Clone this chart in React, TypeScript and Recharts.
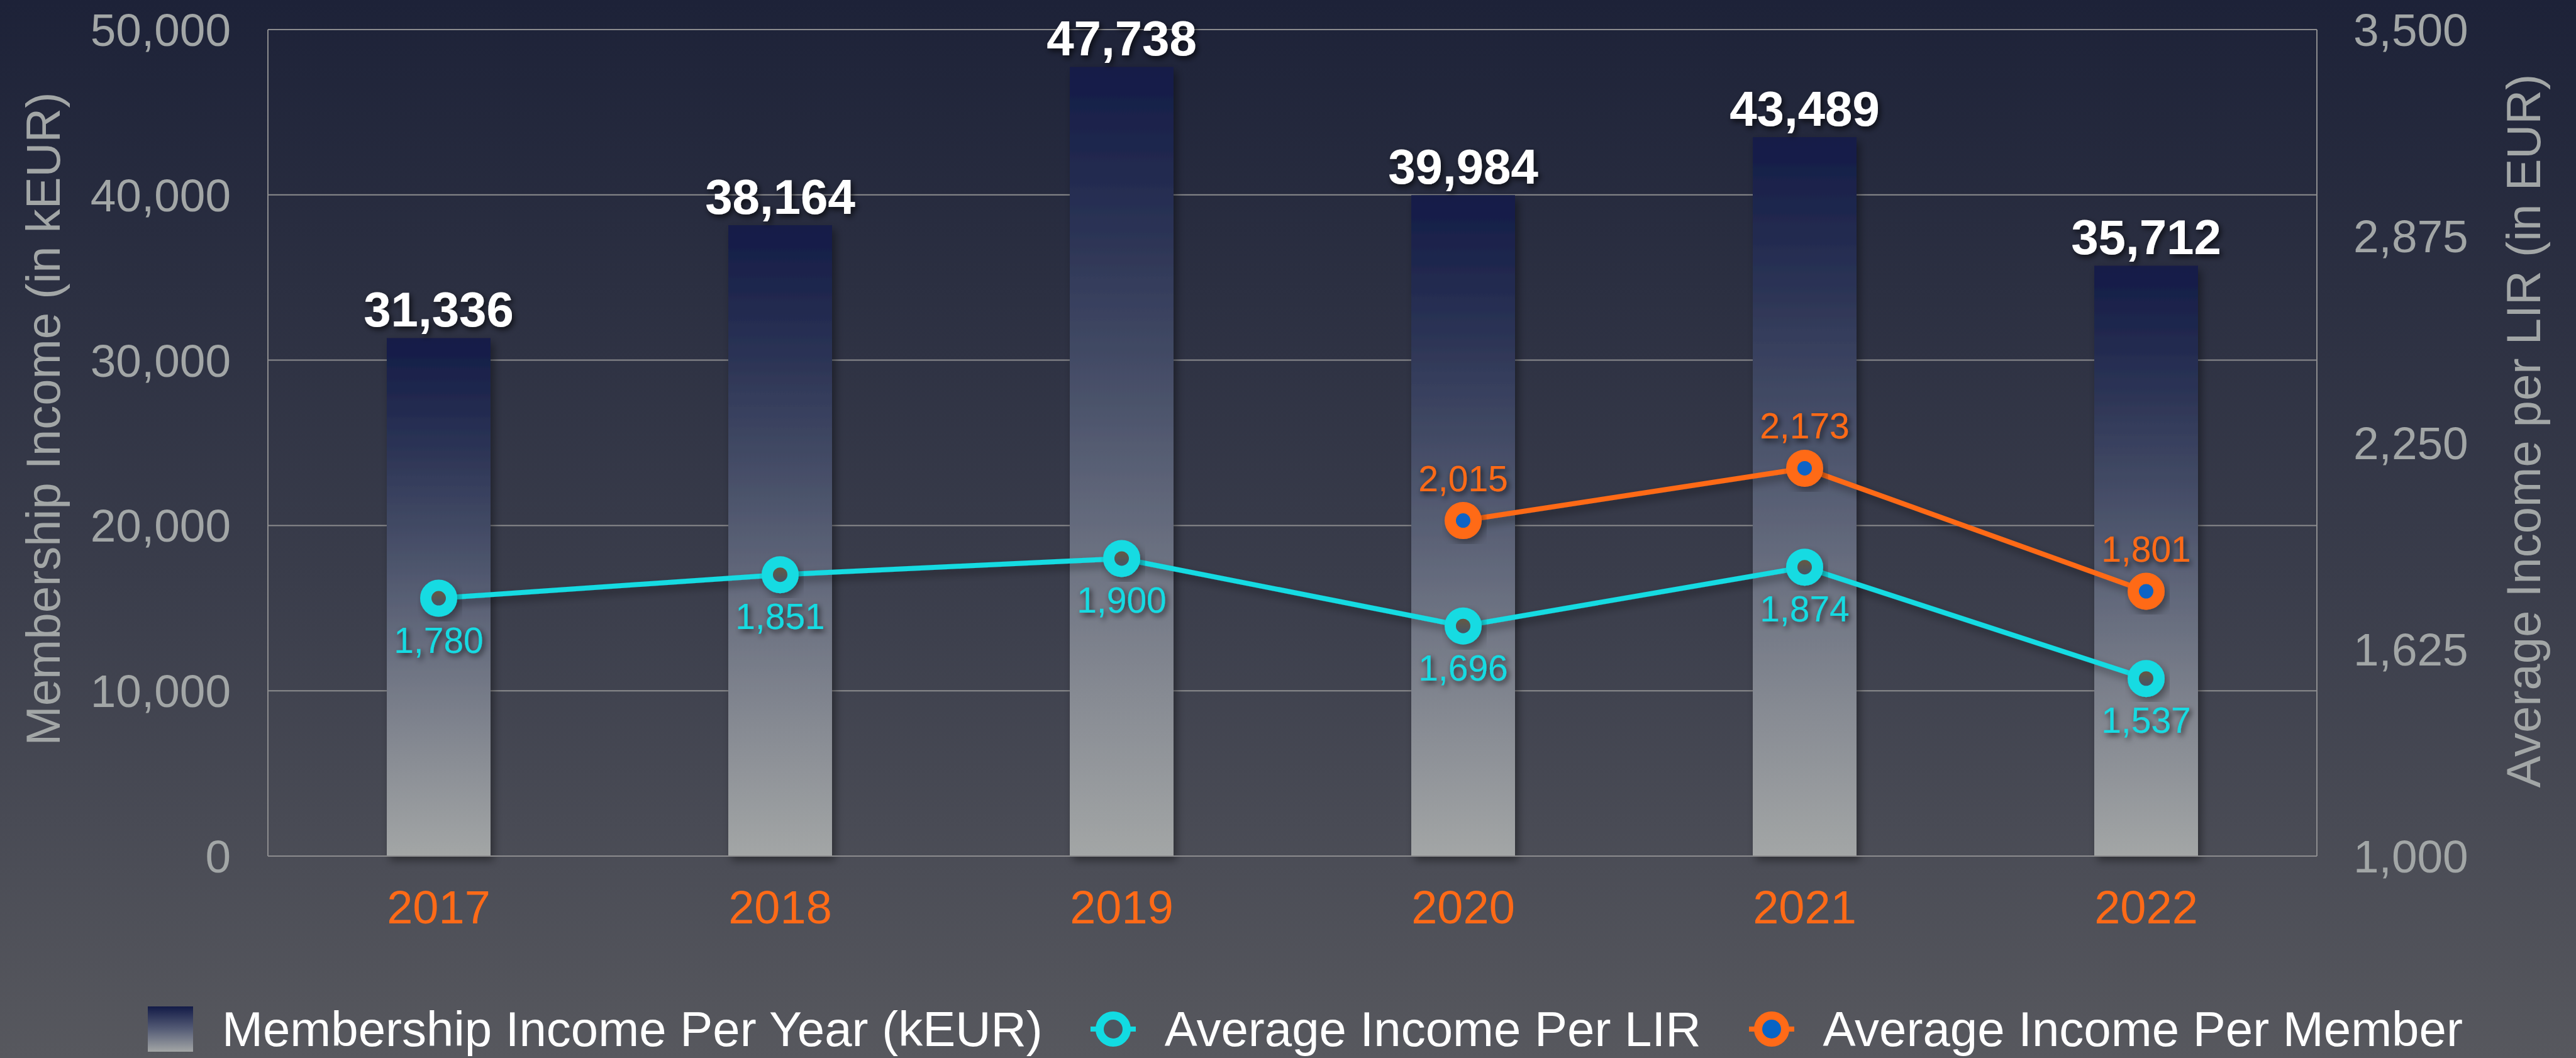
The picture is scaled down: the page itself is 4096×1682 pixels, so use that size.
import {
  ComposedChart,
  Bar,
  Line,
  XAxis,
  YAxis,
  CartesianGrid,
  LabelList,
  Legend,
} from 'recharts'

const years = ['2017', '2018', '2019', '2020', '2021', '2022']
const incomePerYear = [31336, 38164, 47738, 39984, 43489, 35712]
const incomePerLir = [1780, 1851, 1900, 1696, 1874, 1537]
const incomePerMember = [null, null, null, 2015, 2173, 1801]
const leftTicks = [0, 10000, 20000, 30000, 40000, 50000]
const rightTicks = [1000, 1625, 2250, 2875, 3500]

const data = years.map((year, i) => ({
  year,
  income: incomePerYear[i],
  lir: incomePerLir[i],
  member: incomePerMember[i],
}))

const CYAN = '#12dbe2'
const ORANGE = '#ff6a17'
const AXIS_TEXT = '#a2a6a6'
const GRID = '#8c8c8e'
const FONT = '"Liberation Sans", Arial, Helvetica, sans-serif'

const W = 4096
const H = 1682

function fmt(v: any) {
  if (v === null || v === undefined) return ''
  return Number(v).toLocaleString('en-US')
}

function ringDot(color: string, fill: string) {
  return (props: any) => {
    const { cx, cy, value, index } = props
    if (value === null || value === undefined || cy === null || cy === undefined) {
      return <g key={`d-${index}`} />
    }
    return (
      <circle
        key={`d-${index}`}
        cx={cx}
        cy={cy}
        r={20.5}
        fill={fill}
        stroke={color}
        strokeWidth={18}
        filter="url(#shadow)"
      />
    )
  }
}

function axisTitle(text: string, fromLeft: number, shift: number) {
  return (props: any) => {
    const vb = props.viewBox
    const x = vb.x + fromLeft
    const y = vb.y + vb.height / 2 + shift
    return (
      <text
        x={x}
        y={y}
        transform={`rotate(-90 ${x} ${y})`}
        textAnchor="middle"
        dominantBaseline="central"
        fill={AXIS_TEXT}
        fontSize={76}
      >
        {text}
      </text>
    )
  }
}

function BarIcon() {
  return (
    <svg width={72} height={72}>
      <defs>
        <linearGradient id="legBar" x1="0" y1="0" x2="0" y2="1">
          <stop offset="0" stopColor="#131b47" />
          <stop offset="0.5" stopColor="#555c76" />
          <stop offset="1" stopColor="#a3a6a6" />
        </linearGradient>
      </defs>
      <rect x={0} y={0} width={72} height={72} fill="url(#legBar)" />
    </svg>
  )
}

function LineIcon({ color, fill }: { color: string; fill: string }) {
  return (
    <svg width={72} height={72}>
      <line x1={0} y1={36} x2={72} y2={36} stroke={color} strokeWidth={8} />
      <circle cx={36} cy={36} r={21.5} fill={fill} stroke={color} strokeWidth={13} />
    </svg>
  )
}

const legendItems = [
  { label: 'Membership Income Per Year (kEUR)', icon: <BarIcon /> },
  { label: 'Average Income Per LIR', icon: <LineIcon color={CYAN} fill="#4d5660" /> },
  { label: 'Average Income Per Member', icon: <LineIcon color={ORANGE} fill="#0764c6" /> },
]

function renderLegend() {
  return (
    <div
      style={{
        position: 'absolute',
        left: 235,
        top: 0,
        display: 'flex',
        alignItems: 'center',
        gap: 76,
        whiteSpace: 'nowrap',
      }}
    >
      {legendItems.map((it) => (
        <div
          key={it.label}
          style={{ display: 'flex', alignItems: 'center', gap: 46, height: 78 }}
        >
          {it.icon}
          <span style={{ color: '#ffffff', fontSize: 78, lineHeight: 1 }}>{it.label}</span>
        </div>
      ))}
    </div>
  )
}

export default function App() {
  return (
    <div
      style={{
        position: 'fixed',
        left: 0,
        top: 0,
        width: W,
        height: H,
        overflow: 'hidden',
        fontFamily: FONT,
        background: 'linear-gradient(180deg, #1d2238 0%, #3a3d4b 55%, #57585e 100%)',
      }}
    >
      <ComposedChart
        width={W}
        height={H}
        data={data}
        margin={{ top: 47, right: 0, left: 0, bottom: 0 }}
      >
        <defs>
          <linearGradient id="barGrad" x1="0" y1="0" x2="0" y2="1">
            <stop offset="0" stopColor="#131b47" />
            <stop offset="0.2" stopColor="#2a3254" />
            <stop offset="0.4" stopColor="#474f68" />
            <stop offset="0.6" stopColor="#686e7f" />
            <stop offset="0.8" stopColor="#878b93" />
            <stop offset="1" stopColor="#a3a6a6" />
          </linearGradient>
          <linearGradient id="cyanDot" x1="0" y1="0" x2="0" y2="1">
            <stop offset="0" stopColor="#6f5a36" />
            <stop offset="1" stopColor="#3b5574" />
          </linearGradient>
          <filter id="shadow" x="-30%" y="-30%" width="170%" height="170%">
            <feDropShadow dx="5" dy="7" stdDeviation="7" floodColor="#000" floodOpacity="0.4" />
          </filter>
          <filter id="txtShadow" x="-20%" y="-30%" width="150%" height="170%">
            <feDropShadow dx="3" dy="4" stdDeviation="5" floodColor="#000" floodOpacity="0.7" />
          </filter>
        </defs>
        <CartesianGrid
          yAxisId="left"
          vertical={false}
          stroke={GRID}
          strokeWidth={2}
        />
        <XAxis
          dataKey="year"
          height={321}
          tickLine={false}
          axisLine={{ stroke: GRID, strokeWidth: 2 }}
          tick={{ fill: ORANGE, fontSize: 74 }}
          tickMargin={48}
        />
        <YAxis
          yAxisId="left"
          width={426}
          domain={[0, 50000]}
          ticks={leftTicks}
          interval={0}
          tickLine={false}
          tickSize={0}
          tickMargin={59}
          axisLine={{ stroke: GRID, strokeWidth: 2 }}
          tick={{ fill: AXIS_TEXT, fontSize: 73 }}
          tickFormatter={fmt}
          label={{ value: 'Membership Income (in kEUR)', content: axisTitle('Membership Income (in kEUR)', 68, -38) }}
        />
        <YAxis
          yAxisId="right"
          orientation="right"
          width={412}
          domain={[1000, 3500]}
          ticks={rightTicks}
          interval={0}
          tickLine={false}
          tickSize={0}
          tickMargin={58}
          axisLine={{ stroke: GRID, strokeWidth: 2 }}
          tick={{ fill: AXIS_TEXT, fontSize: 73 }}
          tickFormatter={fmt}
          label={{ value: 'Average Income per LIR (in EUR)', content: axisTitle('Average Income per LIR (in EUR)', 328, -19) }}
        />
        <Legend
          content={renderLegend}
          wrapperStyle={{ top: 1597, left: 0, bottom: 'auto', width: W, height: 0 }}
        />
        <Bar
          yAxisId="left"
          dataKey="income"
          name="Membership Income Per Year (kEUR)"
          fill="url(#barGrad)"
          barSize={165}
          filter="url(#shadow)"
          isAnimationActive={false}
        >
          <LabelList
            dataKey="income"
            position="top"
            offset={18}
            fill="#ffffff"
            fontSize={78}
            fontWeight="bold"
            formatter={fmt}
            filter="url(#txtShadow)"
          />
        </Bar>
        <Line
          yAxisId="right"
          dataKey="lir"
          name="Average Income Per LIR"
          stroke={CYAN}
          strokeWidth={8}
          dot={ringDot(CYAN, 'url(#cyanDot)')}
          activeDot={false}
          filter="url(#shadow)"
          isAnimationActive={false}
        >
          <LabelList
            dataKey="lir"
            position="bottom"
            offset={46}
            fill={CYAN}
            fontSize={57}
            formatter={fmt}
            filter="url(#txtShadow)"
          />
        </Line>
        <Line
          yAxisId="right"
          dataKey="member"
          name="Average Income Per Member"
          stroke={ORANGE}
          strokeWidth={8}
          dot={ringDot(ORANGE, '#0764c6')}
          activeDot={false}
          filter="url(#shadow)"
          isAnimationActive={false}
        >
          <LabelList
            dataKey="member"
            position="top"
            offset={47}
            fill={ORANGE}
            fontSize={57}
            formatter={fmt}
            filter="url(#txtShadow)"
          />
        </Line>
      </ComposedChart>
    </div>
  )
}
